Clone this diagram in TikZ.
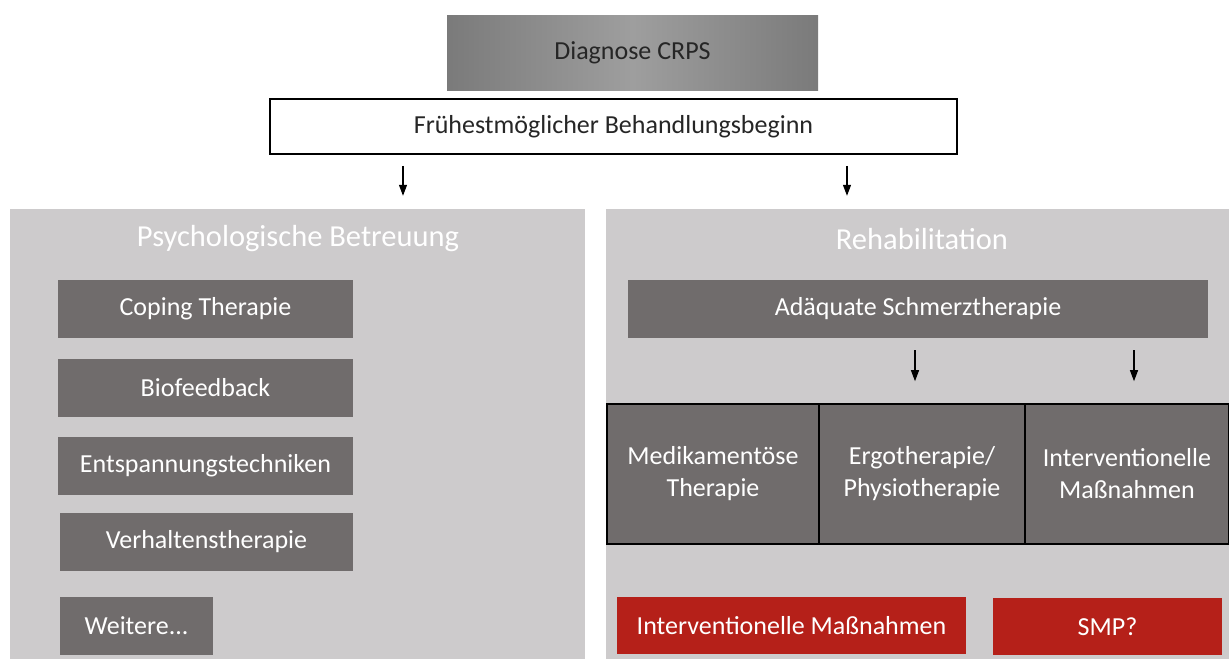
\documentclass[tikz,border=0pt]{standalone}
\usepackage{fontspec}
\setmainfont{Carlito}
\usetikzlibrary{arrows.meta}
\definecolor{panelgray}{HTML}{CDCBCC}
\definecolor{boxgray}{HTML}{706C6C}
\definecolor{boxred}{HTML}{B52019}
\begin{document}
\begin{tikzpicture}[x=1pt, y=-1pt,
    panel/.style = {fill=panelgray, inner sep=0pt},
    heading/.style = {text=white, font=\fontsize{30.5}{36}\selectfont},
    greybox/.style = {fill=boxgray, text=white, inner sep=0pt, font=\fontsize{26}{32}\selectfont, align=center},
    redbox/.style = {fill=boxred, text=white, inner sep=0pt, font=\fontsize{26}{32}\selectfont},
    cellbox/.style = {greybox, draw=black, line width=1.6pt, minimum height=140pt},
    arr/.style = {line width=1.1pt, -{Triangle[width=8pt,length=11pt]}}]
    \useasboundingbox (0,0) rectangle (1229,659);
    % top
    \node[inner sep=0pt, minimum width=371pt, minimum height=75pt, left color=black!52, right color=black!52, middle color=black!38, text=black!85, font=\fontsize{26}{32}\selectfont] (diag) at (632.5,52.5) {Diagnose CRPS};
    \node[draw=black, line width=1.6pt, fill=white, inner sep=0pt, minimum width=687pt, minimum height=55pt, text=black!85, font=\fontsize{26}{32}\selectfont] (frueh) at (613.5,126.5) {Frühestmöglicher Behandlungsbeginn};
    % panels
    \node[panel, minimum width=575pt, minimum height=450pt] (psy) at (297.5,434) {};
    \node[panel, minimum width=623pt, minimum height=450pt] (reha) at (917.5,434) {};
    \node[heading] (psyT) at (298,239) {Psychologische Betreuung};
    \node[heading] (rehaT) at (922,239) {Rehabilitation};
    % left column
    \node[greybox, minimum width=295pt, minimum height=58pt] (coping) at (205.5,309) {Coping Therapie};
    \node[greybox, minimum width=295pt, minimum height=58pt] (bio) at (205.5,388) {Biofeedback};
    \node[greybox, minimum width=295pt, minimum height=58pt] (entsp) at (205.5,466) {Entspannungstechniken};
    \node[greybox, minimum width=293pt, minimum height=58pt] (verh) at (206.5,542) {Verhaltenstherapie};
    \node[greybox, minimum width=153pt, minimum height=58pt] (weit) at (136.5,626) {Weitere...};
    % right column
    \node[greybox, minimum width=580pt, minimum height=58pt] (adaeq) at (918,309) {Adäquate Schmerztherapie};
    \node[cellbox, minimum width=212pt] (med) at (713,474) {Medikamentöse\\Therapie};
    \node[cellbox, minimum width=206pt] (ergo) at (922,474) {Ergotherapie/\\Physiotherapie};
    \node[cellbox, minimum width=204pt] (interv) at (1127,474) {Interventionelle\\Maßnahmen};
    \node[redbox, minimum width=349pt, minimum height=57pt] (red1) at (791.5,625.5) {Interventionelle Maßnahmen};
    \node[redbox, minimum width=229pt, minimum height=57pt] (red2) at (1107.5,626.5) {SMP?};
    % arrows
    \draw[arr, shorten <=11pt, shorten >=13pt] ([xshift=-210.5pt]frueh.south) -- ([xshift=-210.5pt]frueh.south |- psy.north);
    \draw[arr, shorten <=11pt, shorten >=13pt] ([xshift=233.5pt]frueh.south) -- ([xshift=233.5pt]frueh.south |- reha.north);
    \draw[arr, shorten <=12pt, shorten >=22pt] ([xshift=-7pt]ergo.north |- adaeq.south) -- ([xshift=-7pt]ergo.north);
    \draw[arr, shorten <=12pt, shorten >=22pt] ([xshift=7pt]interv.north |- adaeq.south) -- ([xshift=7pt]interv.north);
\end{tikzpicture}
\end{document}
